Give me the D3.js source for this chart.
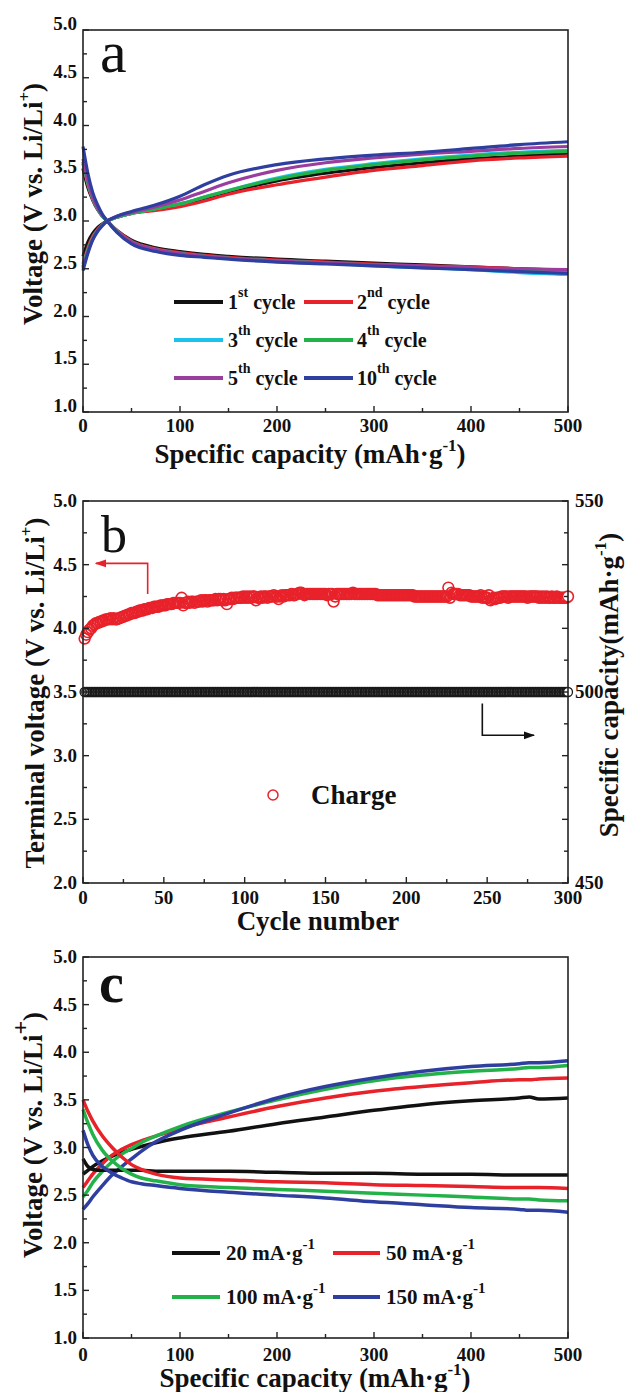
<!DOCTYPE html>
<html><head><meta charset="utf-8">
<script src="https://cdn.jsdelivr.net/npm/d3@7"></script>
<style>
body{margin:0;background:#fff}
svg{display:block}
</style>
</head><body>
<svg id="fig" width="626" height="1392" font-family="'Liberation Serif', 'Times New Roman', Times, serif" font-weight="bold" fill="#111"></svg>
<script>
// ---------------- DATA ----------------
// Panel a: charge/discharge profiles at several cycles
const capA = [0,5,10,15,20,25,35,50,75,100,125,150,200,250,300,350,400,450,500];
const cycleLabels = [["1","st"],["2","nd"],["3","th"],["4","th"],["5","th"],["10","th"]];
const cycleColors = ["#111111","#e8222b","#1cc2ea","#23b24a","#9b3d9f","#2f3f9f"];
const chargeA1  = [2.63,2.78,2.87,2.93,2.97,3.00,3.04,3.08,3.12,3.17,3.23,3.30,3.42,3.50,3.56,3.61,3.65,3.68,3.71];
const chargeA2  = [2.55,2.72,2.84,2.91,2.96,3.00,3.04,3.08,3.11,3.15,3.21,3.28,3.38,3.46,3.53,3.58,3.63,3.66,3.68];
const chargeA3  = [2.52,2.70,2.82,2.90,2.96,3.00,3.04,3.08,3.13,3.18,3.25,3.32,3.45,3.54,3.60,3.65,3.69,3.72,3.74];
const chargeA4  = [2.52,2.70,2.82,2.90,2.96,3.00,3.04,3.08,3.13,3.18,3.25,3.32,3.44,3.53,3.59,3.64,3.68,3.71,3.73];
const chargeA5  = [2.50,2.68,2.81,2.90,2.96,3.00,3.05,3.09,3.15,3.22,3.31,3.40,3.53,3.61,3.66,3.70,3.73,3.76,3.78];
const chargeA10 = [2.48,2.66,2.80,2.89,2.95,3.00,3.05,3.10,3.17,3.26,3.38,3.48,3.59,3.65,3.69,3.72,3.76,3.80,3.83];
const dischA1  = [3.55,3.35,3.22,3.12,3.05,3.00,2.90,2.80,2.72,2.68,2.65,2.63,2.60,2.58,2.56,2.54,2.52,2.50,2.48];
const dischA2  = [3.60,3.38,3.23,3.13,3.05,3.00,2.90,2.79,2.71,2.67,2.64,2.62,2.59,2.57,2.55,2.53,2.52,2.50,2.49];
const dischA3  = [3.62,3.40,3.24,3.13,3.05,3.00,2.89,2.78,2.70,2.66,2.63,2.61,2.58,2.56,2.53,2.51,2.49,2.46,2.44];
const dischA4  = [3.62,3.40,3.24,3.13,3.05,3.00,2.89,2.78,2.70,2.66,2.63,2.61,2.58,2.56,2.54,2.52,2.50,2.48,2.47];
const dischA5  = [3.65,3.42,3.25,3.14,3.06,3.00,2.89,2.78,2.70,2.66,2.63,2.61,2.58,2.56,2.54,2.53,2.51,2.50,2.49];
const dischA10 = [3.78,3.50,3.30,3.17,3.07,3.00,2.88,2.76,2.68,2.64,2.62,2.60,2.57,2.55,2.53,2.51,2.49,2.47,2.45];

// Panel b: terminal charge voltage (V) and specific capacity (mAh/g) per cycle, cycles 1..300
const chargeVoltage = [
3.92,3.95,3.97,3.99,4.00,4.02,4.03,4.04,4.04,4.05, 4.05,4.06,4.06,4.07,4.07,4.07,4.08,4.07,4.08,4.07,
4.07,4.08,4.08,4.09,4.09,4.10,4.10,4.11,4.11,4.12, 4.12,4.12,4.13,4.13,4.14,4.14,4.14,4.15,4.15,4.15,
4.16,4.16,4.16,4.17,4.17,4.17,4.17,4.18,4.18,4.18, 4.18,4.19,4.19,4.19,4.19,4.20,4.20,4.20,4.20,4.20,
4.24,4.18,4.20,4.20,4.21,4.20,4.21,4.21,4.20,4.21, 4.21,4.21,4.22,4.21,4.22,4.22,4.21,4.22,4.22,4.22,
4.22,4.23,4.22,4.23,4.23,4.22,4.23,4.22,4.19,4.23, 4.23,4.24,4.23,4.24,4.24,4.24,4.24,4.24,4.25,4.24,
4.25,4.24,4.25,4.24,4.25,4.25,4.22,4.24,4.24,4.25, 4.24,4.25,4.25,4.24,4.25,4.25,4.25,4.26,4.25,4.25,
4.23,4.25,4.26,4.25,4.26,4.26,4.26,4.26,4.27,4.26, 4.26,4.27,4.27,4.28,4.28,4.27,4.26,4.27,4.27,4.27,
4.27,4.27,4.27,4.27,4.27,4.27,4.27,4.27,4.27,4.27, 4.26,4.27,4.27,4.27,4.21,4.25,4.27,4.27,4.27,4.27,
4.27,4.27,4.27,4.27,4.27,4.27,4.28,4.27,4.27,4.27, 4.27,4.27,4.27,4.27,4.27,4.27,4.27,4.27,4.27,4.27,
4.27,4.26,4.26,4.26,4.26,4.26,4.26,4.26,4.26,4.26, 4.26,4.26,4.26,4.26,4.26,4.26,4.26,4.26,4.26,4.26,
4.26,4.26,4.26,4.26,4.25,4.25,4.25,4.25,4.25,4.25, 4.25,4.25,4.25,4.25,4.25,4.25,4.25,4.25,4.25,4.25,
4.25,4.25,4.25,4.25,4.25,4.32,4.24,4.28,4.27,4.27, 4.27,4.27,4.26,4.26,4.26,4.26,4.26,4.26,4.26,4.25,
4.25,4.25,4.25,4.25,4.25,4.26,4.24,4.25,4.24,4.24, 4.26,4.22,4.23,4.24,4.23,4.24,4.24,4.24,4.25,4.25,
4.25,4.25,4.24,4.25,4.25,4.25,4.25,4.25,4.25,4.25, 4.25,4.25,4.25,4.25,4.24,4.25,4.25,4.25,4.25,4.25,
4.25,4.24,4.25,4.24,4.25,4.24,4.25,4.24,4.24,4.25, 4.24,4.24,4.25,4.24,4.24,4.24,4.24,4.24,4.24,4.25];
const specificCapacity = [
500,500,500,500,500,500,500,500,500,500,500,500,500,500,500,500,500,500,500,500,500,500,500,500,500,500,500,500,500,500,
500,500,500,500,500,500,500,500,500,500,500,500,500,500,500,500,500,500,500,500,500,500,500,500,500,500,500,500,500,500,
500,500,500,500,500,500,500,500,500,500,500,500,500,500,500,500,500,500,500,500,500,500,500,500,500,500,500,500,500,500,
500,500,500,500,500,500,500,500,500,500,500,500,500,500,500,500,500,500,500,500,500,500,500,500,500,500,500,500,500,500,
500,500,500,500,500,500,500,500,500,500,500,500,500,500,500,500,500,500,500,500,500,500,500,500,500,500,500,500,500,500,
500,500,500,500,500,500,500,500,500,500,500,500,500,500,500,500,500,500,500,500,500,500,500,500,500,500,500,500,500,500,
500,500,500,500,500,500,500,500,500,500,500,500,500,500,500,500,500,500,500,500,500,500,500,500,500,500,500,500,500,500,
500,500,500,500,500,500,500,500,500,500,500,500,500,500,500,500,500,500,500,500,500,500,500,500,500,500,500,500,500,500,
500,500,500,500,500,500,500,500,500,500,500,500,500,500,500,500,500,500,500,500,500,500,500,500,500,500,500,500,500,500,
500,500,500,500,500,500,500,500,500,500,500,500,500,500,500,500,500,500,500,500,500,500,500,500,500,500,500,500,500,500];

// Panel c: profiles at different current densities
const capC = [0,5,10,20,30,40,50,60,75,100,150,200,250,300,350,400,450,460,470,500];
const rateLabels = ["20","50","100","150"];
const rateColors = ["#111111","#e8222b","#23b24a","#2f3f9f"];
const chargeC20  = [2.72,2.76,2.80,2.86,2.91,2.95,2.98,3.01,3.05,3.10,3.17,3.25,3.32,3.39,3.45,3.49,3.52,3.53,3.51,3.52];
const chargeC50  = [2.58,2.65,2.72,2.83,2.92,2.98,3.03,3.07,3.12,3.20,3.32,3.43,3.52,3.59,3.64,3.68,3.71,3.71,3.72,3.73];
const chargeC100 = [2.48,2.55,2.63,2.75,2.85,2.93,2.99,3.05,3.12,3.22,3.37,3.50,3.61,3.70,3.76,3.80,3.83,3.84,3.84,3.86];
const chargeC150 = [2.35,2.41,2.48,2.60,2.71,2.80,2.88,2.96,3.06,3.18,3.36,3.52,3.64,3.73,3.80,3.85,3.88,3.89,3.89,3.91];
const dischC20  = [2.88,2.80,2.77,2.76,2.76,2.76,2.76,2.76,2.75,2.75,2.75,2.74,2.73,2.73,2.72,2.72,2.71,2.71,2.71,2.71];
const dischC50  = [3.50,3.38,3.28,3.12,3.00,2.90,2.82,2.77,2.72,2.68,2.66,2.64,2.63,2.61,2.60,2.59,2.58,2.58,2.58,2.57];
const dischC100 = [3.40,3.26,3.14,2.97,2.86,2.78,2.72,2.68,2.65,2.61,2.58,2.56,2.54,2.52,2.50,2.48,2.46,2.46,2.45,2.44];
const dischC150 = [3.18,3.03,2.92,2.80,2.73,2.68,2.64,2.62,2.60,2.57,2.53,2.50,2.47,2.43,2.40,2.37,2.35,2.34,2.34,2.32];

// Tick values
const capTicks = [0,100,200,300,400,500];
const capMinor = [50,150,250,350,450];
const cycleTicks = [0,50,100,150,200,250,300];
const cycleMinor = [25,75,125,175,225,275];
const voltTicks = [1.0,1.5,2.0,2.5,3.0,3.5,4.0,4.5,5.0];
const voltTicksB = [2.0,2.5,3.0,3.5,4.0,4.5,5.0];
const capRightTicks = [450,500,550];

// ---------------- DRAWING ----------------
const svg = d3.select("#fig");
const L = 83, R = 568;
const defs = svg.append("defs");
function marker(id, color){
  defs.append("marker").attr("id",id).attr("viewBox","0 0 10 10").attr("refX",9).attr("refY",5)
    .attr("markerWidth",7).attr("markerHeight",7).attr("orient","auto-start-reverse")
    .append("path").attr("d","M0,1.5 L10,5 L0,8.5 Z").attr("fill",color);
}
marker("arRed","#e8222b"); marker("arBlk","#111");

function rich(sel, parts, supSize, supRise){
  parts.forEach((p,i)=>{
    const t = sel.append("tspan").text(p.t);
    if(p.sup){ t.attr("font-size",supSize).attr("dy",-supRise); }
    else if(i>0 && parts[i-1].sup){ t.attr("dy",supRise); }
  });
  return sel;
}

function frame(g, x, y, top, bottom, opts){
  g.append("rect").attr("x",L).attr("y",top).attr("width",R-L).attr("height",bottom-top)
    .attr("fill","none").attr("stroke","#222").attr("stroke-width",1.6);
  opts.xTicks.forEach(v=>{
    g.append("line").attr("x1",x(v)).attr("x2",x(v)).attr("y1",bottom).attr("y2",bottom-6).attr("stroke","#222").attr("stroke-width",1.4);
    g.append("text").attr("x",x(v)).attr("y",bottom+opts.xLabDy).attr("text-anchor","middle").attr("font-size",19).text(v);
  });
  opts.xMinor.forEach(v=>{
    g.append("line").attr("x1",x(v)).attr("x2",x(v)).attr("y1",bottom).attr("y2",bottom-4).attr("stroke","#222").attr("stroke-width",1.4);
  });
  opts.yTicks.forEach(v=>{
    g.append("line").attr("x1",L).attr("x2",L+6).attr("y1",y(v)).attr("y2",y(v)).attr("stroke","#222").attr("stroke-width",1.4);
    g.append("text").attr("x",77).attr("y",y(v)+6+opts.yLabShift).attr("text-anchor","end").attr("font-size",19).text(d3.format(".1f")(v));
  });
  opts.yTicks.slice(0,-1).forEach(v=>{
    const m = v+0.25;
    g.append("line").attr("x1",L).attr("x2",L+4).attr("y1",y(m)).attr("y2",y(m)).attr("stroke","#222").attr("stroke-width",1.4);
  });
}

const lineGen = (x,y,xs)=> d3.line().x((d,i)=>x(xs[i])).y(d=>y(d)).curve(d3.curveMonotoneX);

// ----- Panel a -----
{
  const top=30, bottom=412;
  const x = d3.scaleLinear().domain([0,500]).range([L,R]);
  const y = d3.scaleLinear().domain([1,5]).range([bottom,top]);
  const g = svg.append("g");
  const charges=[chargeA1,chargeA2,chargeA3,chargeA4,chargeA5,chargeA10];
  const disch=[dischA1,dischA2,dischA3,dischA4,dischA5,dischA10];
  const lg = lineGen(x,y,capA);
  disch.forEach((s,i)=> g.append("path").attr("d",lg(s)).attr("fill","none").attr("stroke",cycleColors[i]).attr("stroke-width",3.2));
  charges.forEach((s,i)=> g.append("path").attr("d",lg(s)).attr("fill","none").attr("stroke",cycleColors[i]).attr("stroke-width",3.2));
  frame(g,x,y,top,bottom,{xTicks:capTicks,xMinor:capMinor,yTicks:voltTicks,xLabDy:20,yLabShift:-6});
  g.append("text").attr("x",100).attr("y",72).attr("font-size",60).attr("font-weight","normal").text("a");
  const rows=[302,340,378], cols=[[174,223,228],[304,353,357]];
  cycleLabels.forEach((lab,i)=>{
    const r=rows[Math.floor(i/2)], c=cols[i%2];
    g.append("line").attr("x1",c[0]).attr("x2",c[1]).attr("y1",r).attr("y2",r).attr("stroke",cycleColors[i]).attr("stroke-width",4);
    const t=g.append("text").attr("x",c[2]).attr("y",r+7).attr("font-size",20);
    rich(t,[{t:lab[0]},{t:lab[1],sup:true},{t:" cycle"}],14,12);
  });
  const xt=g.append("text").attr("x",310).attr("y",463).attr("text-anchor","middle").attr("font-size",27);
  rich(xt,[{t:"Specific capacity (mAh·g"},{t:"-1",sup:true},{t:")"}],17,12);
  const yt=g.append("text").attr("transform","translate(42,204) rotate(-90)").attr("text-anchor","middle").attr("font-size",27);
  rich(yt,[{t:"Voltage (V vs. Li/Li"},{t:"+",sup:true},{t:")"}],17,12);
}

// ----- Panel b -----
{
  const top=501, bottom=883;
  const x = d3.scaleLinear().domain([0,300]).range([L,R]);
  const y = d3.scaleLinear().domain([2,5]).range([bottom,top]);
  const y2 = d3.scaleLinear().domain([450,550]).range([bottom,top]);
  const g = svg.append("g");
  g.selectAll("circle.cap").data(specificCapacity).join("circle").attr("class","cap")
    .attr("cx",(d,i)=>x(i+1)).attr("cy",d=>y2(d)).attr("r",4.5)
    .attr("fill",(d,i)=> i===specificCapacity.length-1?"#fff":"none").attr("stroke","#1a1a1a").attr("stroke-width",1.3);
  g.selectAll("circle.v").data(chargeVoltage).join("circle").attr("class","v")
    .attr("cx",(d,i)=>x(i+1)).attr("cy",d=>y(d)).attr("r",5.4)
    .attr("fill",(d,i)=> i===chargeVoltage.length-1?"#fff":"none").attr("stroke","#e8222b").attr("stroke-width",1.6);
  frame(g,x,y,top,bottom,{xTicks:cycleTicks,xMinor:cycleMinor,yTicks:voltTicksB,xLabDy:21,yLabShift:0});
  voltTicksB.forEach(v=>{
    g.append("line").attr("x1",R).attr("x2",R-6).attr("y1",y(v)).attr("y2",y(v)).attr("stroke","#222").attr("stroke-width",1.4);
  });
  voltTicksB.slice(0,-1).forEach(v=>{
    g.append("line").attr("x1",R).attr("x2",R-4).attr("y1",y(v+0.25)).attr("y2",y(v+0.25)).attr("stroke","#222").attr("stroke-width",1.4);
  });
  capRightTicks.forEach(v=>{
    g.append("text").attr("x",575).attr("y",y2(v)+6).attr("font-size",19).text(v);
  });
  g.append("text").attr("x",101).attr("y",552).attr("font-size",52).attr("font-weight","normal").text("b");
  g.append("path").attr("d",`M${x(40)},${y(4.27)} L${x(40)},${y(4.51)} L${x(8)},${y(4.51)}`)
    .attr("fill","none").attr("stroke","#e8222b").attr("stroke-width",1.6).attr("marker-end","url(#arRed)");
  g.append("path").attr("d",`M${x(247)},${y(3.41)} L${x(247)},${y(3.16)} L${x(279)},${y(3.16)}`)
    .attr("fill","none").attr("stroke","#111").attr("stroke-width",1.6).attr("marker-end","url(#arBlk)");
  g.append("circle").attr("cx",273).attr("cy",795).attr("r",5).attr("fill","none").attr("stroke","#e8222b").attr("stroke-width",1.5);
  g.append("text").attr("x",311).attr("y",804).attr("font-size",27).text("Charge");
  g.append("text").attr("x",318).attr("y",930).attr("text-anchor","middle").attr("font-size",27).text("Cycle number");
  const yt=g.append("text").attr("transform","translate(44,693) rotate(-90)").attr("text-anchor","middle").attr("font-size",27);
  rich(yt,[{t:"Terminal voltage (V vs. Li/Li"},{t:"+",sup:true},{t:")"}],17,12);
  const yr=g.append("text").attr("transform","translate(618,685) rotate(-90)").attr("text-anchor","middle").attr("font-size",27);
  rich(yr,[{t:"Specific capacity(mAh·g"},{t:"-1",sup:true},{t:")"}],17,12);
}

// ----- Panel c -----
{
  const top=957, bottom=1338;
  const x = d3.scaleLinear().domain([0,500]).range([L,R]);
  const y = d3.scaleLinear().domain([1,5]).range([bottom,top]);
  const g = svg.append("g");
  const charges=[chargeC20,chargeC50,chargeC100,chargeC150];
  const disch=[dischC20,dischC50,dischC100,dischC150];
  const lg = lineGen(x,y,capC);
  charges.forEach((s,i)=> g.append("path").attr("d",lg(s)).attr("fill","none").attr("stroke",rateColors[i]).attr("stroke-width",3.5));
  disch.forEach((s,i)=> g.append("path").attr("d",lg(s)).attr("fill","none").attr("stroke",rateColors[i]).attr("stroke-width",3.5));
  frame(g,x,y,top,bottom,{xTicks:capTicks,xMinor:capMinor,yTicks:voltTicks,xLabDy:23,yLabShift:0});
  g.append("text").attr("x",99).attr("y",1002).attr("font-size",56).text("c");
  const rows=[1253,1297], cols=[[172,220,226],[333,380,386]];
  rateLabels.forEach((lab,i)=>{
    const r=rows[Math.floor(i/2)], c=cols[i%2];
    g.append("line").attr("x1",c[0]).attr("x2",c[1]).attr("y1",r).attr("y2",r).attr("stroke",rateColors[i]).attr("stroke-width",4);
    const t=g.append("text").attr("x",c[2]).attr("y",r+7).attr("font-size",21);
    rich(t,[{t:lab+" mA·g"},{t:"-1",sup:true}],15,11);
  });
  const xt=g.append("text").attr("x",315).attr("y",1387).attr("text-anchor","middle").attr("font-size",27);
  rich(xt,[{t:"Specific capacity (mAh·g"},{t:"-1",sup:true},{t:")"}],17,12);
  const yt=g.append("text").attr("transform","translate(42,1135) rotate(-90)").attr("text-anchor","middle").attr("font-size",27);
  rich(yt,[{t:"Voltage (V vs. Li/Li"},{t:"+",sup:true},{t:")"}],24,14);
}
</script>
</body></html>
